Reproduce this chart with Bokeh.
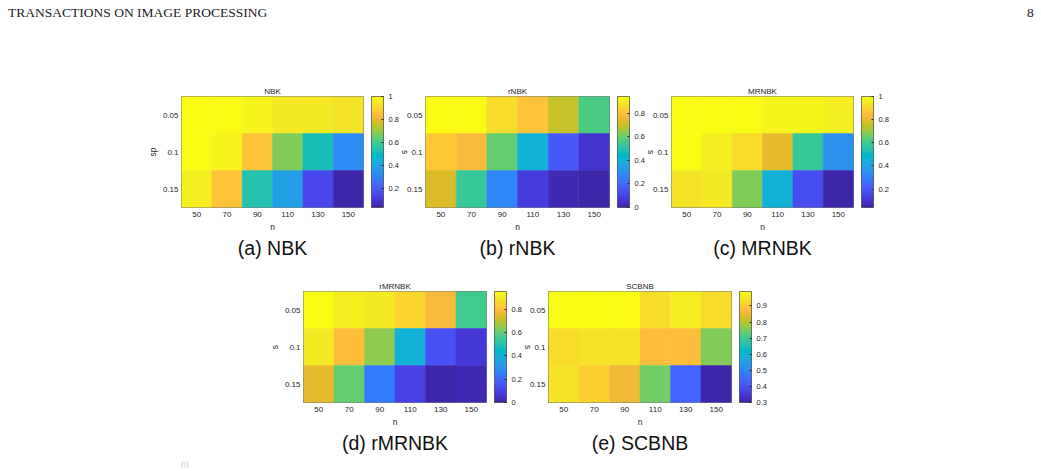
import math
from bokeh.plotting import figure
from bokeh.models import (Range1d, FixedTicker, CustomJSTickFormatter, LinearColorMapper,
                          ColorBar, Div, Spacer, ColumnDataSource, LinearAxis, Title)
from bokeh.layouts import column, row
from bokeh.transform import transform
from bokeh.embed import file_html
from bokeh.resources import INLINE

# ---------------- data ----------------
n_values = [50, 70, 90, 110, 130, 150]
s_values = [0.05, 0.1, 0.15]

nbk = [[1.00, 1.00, 0.98, 0.95, 0.94, 0.93],
       [1.00, 0.97, 0.86, 0.67, 0.52, 0.33],
       [0.96, 0.85, 0.54, 0.38, 0.14, 0.03]]
rnbk = [[0.94, 0.94, 0.86, 0.80, 0.70, 0.56],
        [0.82, 0.77, 0.60, 0.40, 0.16, 0.05],
        [0.72, 0.53, 0.27, 0.08, 0.02, 0.00]]
mrnbk = [[1.00, 1.00, 0.99, 0.98, 0.97, 0.96],
         [1.00, 0.96, 0.92, 0.80, 0.58, 0.35],
         [0.93, 0.95, 0.68, 0.45, 0.16, 0.04]]
rmrnbk = [[0.95, 0.91, 0.90, 0.86, 0.78, 0.56],
          [0.90, 0.80, 0.65, 0.41, 0.14, 0.06],
          [0.75, 0.60, 0.25, 0.09, 0.00, 0.02]]
scbnb = [[0.99, 0.99, 0.99, 0.93, 0.96, 0.93],
         [0.93, 0.94, 0.94, 0.88, 0.875, 0.755],
         [0.94, 0.91, 0.855, 0.75, 0.43, 0.30]]

titles = ["NBK", "rNBK", "MRNBK", "rMRNBK", "SCBNB"]
captions = ["(a) NBK", "(b) rNBK", "(c) MRNBK", "(d) rMRNBK", "(e) SCBNB"]
cbar_ticks_a = [0.2, 0.4, 0.6, 0.8, 1.0]
cbar_ticks_b = [0.0, 0.2, 0.4, 0.6, 0.8]
cbar_ticks_c = [0.2, 0.4, 0.6, 0.8, 1.0]
cbar_ticks_d = [0.0, 0.2, 0.4, 0.6, 0.8]
cbar_ticks_e = [0.3, 0.4, 0.5, 0.6, 0.7, 0.8, 0.9]
header_left = "TRANSACTIONS ON IMAGE PROCESSING"
header_right = "8"
footer_text = "(i)"

# ---------------- style ----------------
PARULA_RGB = [
    (0.2422, 0.1504, 0.6603), (0.2504, 0.1650, 0.7076), (0.2578, 0.1818, 0.7511), (0.2647, 0.1978, 0.7952),
    (0.2706, 0.2147, 0.8364), (0.2751, 0.2342, 0.8710), (0.2783, 0.2559, 0.8991), (0.2803, 0.2782, 0.9221),
    (0.2813, 0.3006, 0.9414), (0.2810, 0.3228, 0.9579), (0.2795, 0.3447, 0.9717), (0.2760, 0.3667, 0.9829),
    (0.2699, 0.3892, 0.9906), (0.2602, 0.4123, 0.9952), (0.2440, 0.4358, 0.9988), (0.2206, 0.4603, 0.9973),
    (0.1963, 0.4847, 0.9892), (0.1834, 0.5074, 0.9798), (0.1786, 0.5289, 0.9682), (0.1764, 0.5499, 0.9520),
    (0.1687, 0.5703, 0.9359), (0.1540, 0.5902, 0.9218), (0.1460, 0.6091, 0.9079), (0.1380, 0.6276, 0.8973),
    (0.1248, 0.6459, 0.8883), (0.1113, 0.6635, 0.8763), (0.0952, 0.6798, 0.8598), (0.0689, 0.6948, 0.8394),
    (0.0297, 0.7082, 0.8163), (0.0036, 0.7203, 0.7917), (0.0067, 0.7312, 0.7660), (0.0433, 0.7411, 0.7394),
    (0.0964, 0.7500, 0.7120), (0.1408, 0.7584, 0.6842), (0.1717, 0.7670, 0.6554), (0.1938, 0.7758, 0.6251),
    (0.2161, 0.7843, 0.5923), (0.2470, 0.7918, 0.5567), (0.2906, 0.7973, 0.5188), (0.3406, 0.8008, 0.4789),
    (0.3909, 0.8029, 0.4354), (0.4456, 0.8024, 0.3909), (0.5044, 0.7993, 0.3480), (0.5616, 0.7942, 0.3045),
    (0.6174, 0.7876, 0.2612), (0.6720, 0.7793, 0.2227), (0.7242, 0.7698, 0.1910), (0.7738, 0.7598, 0.1646),
    (0.8203, 0.7498, 0.1535), (0.8634, 0.7406, 0.1596), (0.9035, 0.7330, 0.1774), (0.9393, 0.7288, 0.2100),
    (0.9728, 0.7298, 0.2394), (0.9956, 0.7434, 0.2371), (0.9970, 0.7659, 0.2199), (0.9952, 0.7893, 0.2028),
    (0.9892, 0.8136, 0.1885), (0.9786, 0.8386, 0.1766), (0.9676, 0.8639, 0.1643), (0.9610, 0.8890, 0.1537),
    (0.9597, 0.9135, 0.1423), (0.9628, 0.9373, 0.1265), (0.9691, 0.9606, 0.1064), (0.9769, 0.9839, 0.0805),
]
PARULA = ["#%02x%02x%02x" % tuple(int(round(c * 255)) for c in rgb) for rgb in PARULA_RGB]

FONT = "Liberation Sans"
INK = "#262626"
FMT = CustomJSTickFormatter(code="return parseFloat(tick.toFixed(4)).toString();")


def style_axis(ax):
    ax.major_tick_out = 0
    ax.major_tick_in = 0
    ax.minor_tick_out = 0
    ax.minor_tick_in = 0
    ax.axis_line_color = None
    ax.major_label_text_font = FONT
    ax.major_label_text_font_size = "8px"
    ax.major_label_text_color = INK
    ax.axis_label_text_font = FONT
    ax.axis_label_text_font_size = "8.5px"
    ax.axis_label_text_font_style = "normal"
    ax.axis_label_text_color = INK
    ax.axis_label_standoff = 2


def make_panel(title, caption, values, cbar_ticks, width, left, frame_w, top, frame_h, height,
               ylabel=None, cbar_label=False, shift=0):
    xs, ys, vs = [], [], []
    for i, s in enumerate(s_values):
        for j, n in enumerate(n_values):
            xs.append(n)
            ys.append(s)
            vs.append(values[i][j])
    src = ColumnDataSource(dict(n=xs, s=ys, v=vs))
    mapper = LinearColorMapper(palette=PARULA, low=min(vs), high=max(vs))

    p = figure(width=width, height=height, x_range=Range1d(40, 160), y_range=Range1d(0.175, 0.025),
               output_backend="svg", toolbar_location=None,
               min_border_left=left, min_border_right=width - left - frame_w,
               min_border_top=top, min_border_bottom=height - top - frame_h,
               margin=(0, 0, 0, shift))
    p.rect(x="n", y="s", width=20, height=0.05, source=src,
           fill_color=transform("v", mapper), line_color=transform("v", mapper), line_width=0.5)
    p.grid.visible = False
    p.outline_line_color = INK
    p.outline_line_width = 0.6
    p.background_fill_color = None
    p.border_fill_color = None

    p.xaxis.ticker = FixedTicker(ticks=n_values)
    p.yaxis.ticker = FixedTicker(ticks=s_values)
    p.yaxis.formatter = FMT
    style_axis(p.xaxis[0])
    style_axis(p.yaxis[0])
    p.xaxis.major_label_standoff = 4
    p.yaxis.major_label_standoff = 3
    p.xaxis.axis_label = "n"
    if ylabel:
        p.yaxis.axis_label = ylabel

    p.title.text = title
    p.title.align = "center"
    p.title.text_font = FONT
    p.title.text_font_size = "8px"
    p.title.text_font_style = "normal"
    p.title.text_color = INK
    p.title.standoff = 1

    cb = ColorBar(color_mapper=mapper, ticker=FixedTicker(ticks=cbar_ticks), formatter=FMT,
                  location=(8, 0), width=12, height=frame_h, padding=0, margin=0,
                  major_tick_in=2, major_tick_out=0, major_tick_line_color=INK,
                  label_standoff=5,
                  major_label_text_font=FONT, major_label_text_font_size="7.5px",
                  major_label_text_color=INK,
                  bar_line_color=INK, bar_line_width=0.6,
                  background_fill_color=None, border_line_color=None)
    p.add_layout(cb, "right")

    if cbar_label:
        lab = LinearAxis(ticker=FixedTicker(ticks=[]), axis_label="s")
        style_axis(lab)
        lab.major_label_standoff = 0
        lab.axis_label_standoff = -2
        p.add_layout(lab, "right")

    p.add_layout(Title(text=caption, align="center", offset=4, standoff=0, text_font=FONT,
                       text_font_size="19.5px", text_font_style="normal", text_color="#111111"),
                 "below")
    return p


# Row 1 (figures overlap through negative left margins, as the panels do in the reference)
pa = make_panel(titles[0], captions[0], nbk, cbar_ticks_a, 288, 51, 182, 66, 111, 240,
                ylabel="sp", cbar_label=True)
pb = make_panel(titles[1], captions[1], rnbk, cbar_ticks_b, 269, 30, 184, 66, 111, 240,
                cbar_label=True, shift=-23)
pc = make_panel(titles[2], captions[2], mrnbk, cbar_ticks_c, 400, 30, 182, 66, 111, 240,
                shift=-23)

# Row 2
pd = make_panel(titles[3], captions[3], rmrnbk, cbar_ticks_d, 291, 53, 183, 21, 111, 201,
                ylabel="s", cbar_label=True)
pe = make_panel(titles[4], captions[4], scbnb, cbar_ticks_e, 523, 30, 183, 21, 111, 201,
                shift=-23)

header = Div(width=1041, height=30, margin=0, text=(
    '<div style="position:relative;width:1041px;height:30px;font-family:\'Liberation Serif\';'
    'font-size:13.5px;color:#222;">'
    '<span style="position:absolute;left:8px;top:3px;white-space:nowrap;">' + header_left + '</span>'
    '<span style="position:absolute;left:1027px;top:3px;">' + header_right + '</span></div>'))

left2 = Div(width=250, height=201, margin=0, text=(
    '<div style="position:relative;width:250px;height:201px;'
    'font-family:\'Liberation Serif\';font-size:8px;color:#c0c0c0;">'
    '<span style="position:absolute;left:181px;top:189px;">' + footer_text + '</span></div>'))

row1 = row(Spacer(width=130, height=240, margin=0), pa, pb, pc, spacing=0)
row2 = row(left2, pd, pe, spacing=0)
layout = column(header, row1, row2, spacing=0)

open("out.html", "w").write(file_html(layout, INLINE))
